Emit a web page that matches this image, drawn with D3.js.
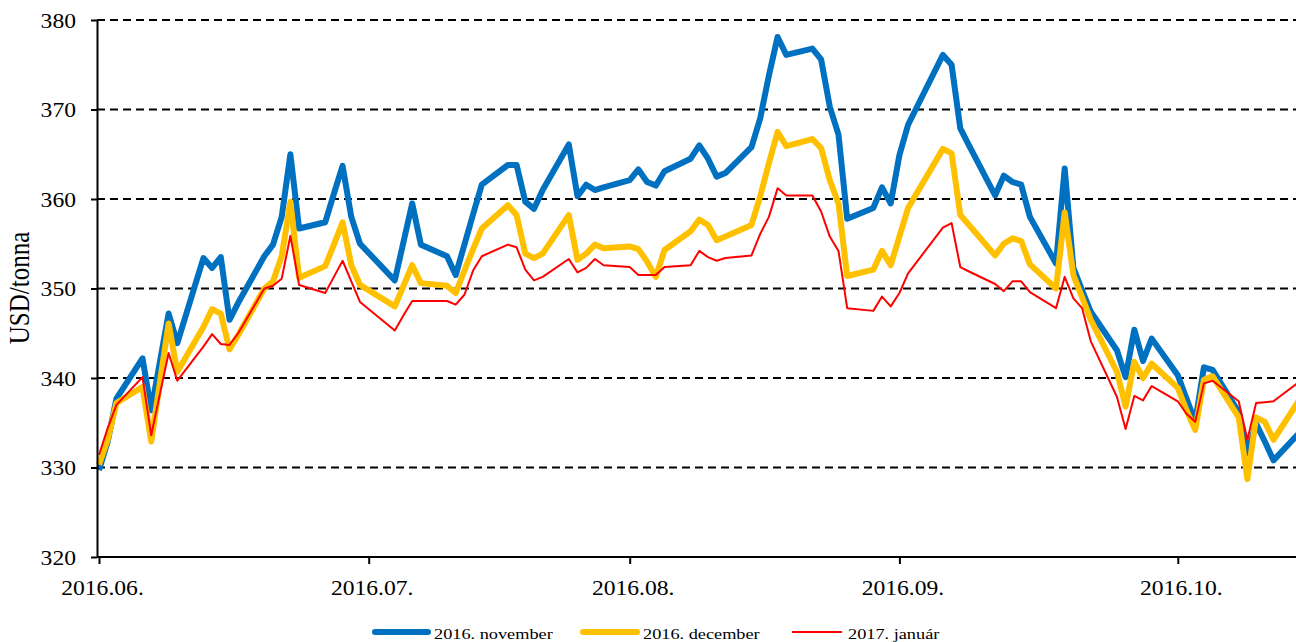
<html>
<head>
<script src="https://d3js.org/d3.v7.min.js"></script>
<style>
  body { margin: 0; background: #fff; }
  svg { display: block; }
  text { font-family: "Liberation Serif", "Times New Roman", serif; fill: #000; }
</style>
</head>
<body>
<svg id="chart" width="1296" height="642"></svg>
<script>
// trading days
const dates = [
  "2016-06-01","2016-06-02","2016-06-03","2016-06-06","2016-06-07","2016-06-09","2016-06-10",
  "2016-06-13","2016-06-14","2016-06-15","2016-06-16","2016-06-17",
  "2016-06-20","2016-06-21","2016-06-22","2016-06-23","2016-06-24",
  "2016-06-27","2016-06-28","2016-06-29","2016-06-30","2016-07-01",
  "2016-07-05","2016-07-06","2016-07-07","2016-07-08",
  "2016-07-11","2016-07-12","2016-07-13","2016-07-14","2016-07-15",
  "2016-07-18","2016-07-19","2016-07-20","2016-07-21","2016-07-22",
  "2016-07-25","2016-07-26","2016-07-27","2016-07-28","2016-07-29",
  "2016-08-01","2016-08-02","2016-08-03","2016-08-04","2016-08-05",
  "2016-08-08","2016-08-09","2016-08-10","2016-08-11","2016-08-12",
  "2016-08-15","2016-08-16","2016-08-17","2016-08-18","2016-08-19",
  "2016-08-22","2016-08-23","2016-08-24","2016-08-25","2016-08-26",
  "2016-08-29","2016-08-30","2016-08-31","2016-09-01","2016-09-02",
  "2016-09-06","2016-09-07","2016-09-08","2016-09-09",
  "2016-09-12","2016-09-13","2016-09-14","2016-09-15","2016-09-16",
  "2016-09-19","2016-09-20","2016-09-21","2016-09-22","2016-09-23",
  "2016-09-26","2016-09-27","2016-09-28","2016-09-29","2016-09-30",
  "2016-10-03","2016-10-04","2016-10-05","2016-10-06","2016-10-07",
  "2016-10-10","2016-10-11","2016-10-12","2016-10-13","2016-10-14","2016-10-17"
];

const novValues = [
  329.7, 332.9, 337.7, 342.2, 336.4, 347.2, 343.9,
  353.4, 352.3, 353.5, 346.5, 348.4,
  353.6, 354.9, 358.0, 365.0, 356.7,
  357.4, 360.6, 363.7, 358.0, 355.0,
  350.9, 355.2, 359.5, 354.9,
  353.6, 351.5, 354.9, 358.3, 361.6,
  363.8, 363.8, 359.7, 358.9, 361.0,
  366.1, 360.3, 361.6, 361.0, 361.3,
  362.1, 363.3, 361.9, 361.5, 363.1,
  364.5, 366.0, 364.5, 362.5, 362.9,
  365.8, 369.0, 373.8, 378.1, 376.1,
  376.8, 375.6, 370.3, 367.2, 357.8,
  359.0, 361.3, 359.5, 364.9, 368.3,
  376.1, 375.0, 367.9, 366.0,
  360.4, 362.6, 361.9, 361.6, 358.0,
  352.8, 363.4, 352.3, 349.8, 347.4,
  343.1, 340.1, 345.4, 341.9, 344.4,
  340.3, 337.7, 335.1, 341.2, 340.9,
  336.2, 331.6, 334.9, 332.9, 330.8, 333.9
];

const decValues = [
  330.3, 333.1, 337.2, 339.0, 332.9, 346.1, 340.7,
  345.7, 347.7, 347.2, 343.2, 344.8,
  350.0, 350.8, 353.6, 359.7, 351.2,
  352.5, 354.9, 357.4, 352.6, 350.4,
  348.0, 350.3, 352.6, 350.6,
  350.3, 349.5, 352.0, 354.4, 356.7,
  359.3, 358.2, 353.9, 353.4, 353.9,
  358.2, 353.2, 353.9, 354.9, 354.5,
  354.7, 354.4, 353.0, 351.3, 354.3,
  356.4, 357.7, 357.1, 355.4, 355.8,
  357.1, 360.3, 364.0, 367.5, 365.9,
  366.7, 365.7, 362.1, 359.5, 351.4,
  352.1, 354.2, 352.6, 355.8, 359.0,
  365.6, 365.1, 358.2, 357.1,
  353.7, 355.0, 355.6, 355.3, 352.7,
  350.0, 358.5, 351.5, 349.0, 346.5,
  340.7, 336.8, 341.8, 340.0, 341.6,
  338.9, 336.4, 334.2, 339.8, 340.2,
  335.6, 328.7, 335.6, 335.1, 333.1, 337.6
];

const janValues = [
  331.4, 334.4, 337.0, 340.1, 333.6, 342.8, 339.7,
  343.5, 344.9, 343.8, 343.7, 345.0,
  350.0, 350.3, 351.1, 355.9, 350.4,
  349.5, 351.3, 353.1, 350.8, 348.5,
  345.3, 347.0, 348.6, 348.6,
  348.6, 348.2, 349.3, 352.0, 353.6,
  354.9, 354.6, 352.1, 350.9, 351.3,
  353.3, 351.8, 352.3, 353.3, 352.6,
  352.4, 351.5, 351.5, 351.5, 352.4,
  352.6, 354.2, 353.5, 353.1, 353.4,
  353.7, 356.1, 358.0, 361.2, 360.4,
  360.4, 358.6, 355.8, 354.2, 347.8,
  347.5, 349.1, 348.0, 349.5, 351.7,
  356.8, 357.3, 352.4, 351.9,
  350.5, 349.7, 350.8, 350.8, 349.6,
  347.8, 351.3, 348.9, 347.8, 344.1,
  337.9, 334.3, 338.0, 337.5, 339.1,
  337.4, 336.0, 335.1, 339.4, 339.7,
  337.4, 333.1, 337.2, 337.3, 337.4, 339.6
];

const seriesNames = ["2016. november", "2016. december", "2017. január"];
const seriesColors = ["#0070C0", "#FFC000", "#FF0000"];
const seriesWidths = [6, 6, 2];
const yTicks = [320, 330, 340, 350, 360, 370, 380];
// month ticks sit where the source draws them
const monthTicks = ["2016-06-01", "2016-07-02", "2016-08-01", "2016-09-01", "2016-10-03"];

const parse = d3.timeParse("%Y-%m-%d");
const svg = d3.select("#chart");

const plotLeft = 97, plotTop = 20, plotBottom = 557, plotRight = 1296;
const stretch = 1.18; // the source picture is a bit wider than tall

const x = d3.scaleTime()
    .domain([parse("2016-06-01"), parse("2016-10-17")])
    .range([99, 99 + 138 * 8.7]);

const y = d3.scaleLinear()
    .domain([320, 380])
    .range([plotBottom, plotTop]);

// dashed grid
svg.append("g")
    .selectAll("line")
    .data(yTicks.slice(1))
    .enter()
    .append("line")
    .attr("x1", plotLeft)
    .attr("x2", plotRight)
    .attr("y1", d => y(d))
    .attr("y2", d => y(d))
    .style("stroke", "#000")
    .style("stroke-width", 2)
    .style("stroke-dasharray", "8,5");

// series
const series = [novValues, decValues, janValues].map((vals, i) => ({
    name: seriesNames[i],
    color: seriesColors[i],
    width: seriesWidths[i],
    points: dates.map((d, j) => ({ date: parse(d), value: vals[j] }))
}));

const line = d3.line()
    .x(d => x(d.date))
    .y(d => y(d.value));

svg.append("g")
    .selectAll("path")
    .data(series)
    .enter()
    .append("path")
    .attr("d", d => line(d.points))
    .style("fill", "none")
    .style("stroke", d => d.color)
    .style("stroke-width", d => d.width)
    .style("stroke-linejoin", "round");

// y axis
const yAxis = svg.append("g")
    .attr("transform", `translate(${plotLeft}, 0)`)
    .call(d3.axisLeft(y).tickValues(yTicks).tickSizeInner(6).tickSizeOuter(0).tickFormat(d3.format("d")));

yAxis.select(".domain").style("stroke", "#000").style("stroke-width", 2);
yAxis.selectAll(".tick line").style("stroke", "#000").style("stroke-width", 2);
yAxis.selectAll(".tick text")
    .attr("x", 0)
    .attr("y", 7)
    .attr("dy", null)
    .attr("transform", `translate(-21, 0) scale(${stretch}, 1)`)
    .style("font-size", "20px");

// x axis
const xAxis = svg.append("g")
    .attr("transform", `translate(0, ${plotBottom})`)
    .call(d3.axisBottom(x)
        .tickValues(monthTicks.map(parse))
        .tickSizeInner(7)
        .tickSizeOuter(0)
        .tickFormat(d3.timeFormat("%Y.%m.")));

xAxis.select(".domain").attr("d", `M${plotLeft},0H${plotRight}`).style("stroke", "#000").style("stroke-width", 2);
xAxis.selectAll(".tick line").style("stroke", "#000").style("stroke-width", 2);
xAxis.selectAll(".tick text")
    .attr("y", 38)
    .attr("dy", null)
    .attr("transform", `translate(3, 0) scale(${stretch}, 1)`)
    .style("font-size", "20px");

// y axis title
svg.append("text")
    .attr("transform", `translate(29, 288) scale(${stretch}, 1) rotate(-90)`)
    .style("text-anchor", "middle")
    .style("font-size", "25px")
    .text("USD/tonna");

// legend
const legendX = [375, 583, 792];
const legendLen = [53, 54, 50];
const legend = svg.append("g")
    .selectAll("g")
    .data(series)
    .enter()
    .append("g")
    .attr("transform", (d, i) => `translate(${legendX[i]}, 632)`);

legend.append("line")
    .attr("x1", 0)
    .attr("x2", (d, i) => legendLen[i])
    .style("stroke", d => d.color)
    .style("stroke-width", d => d.width)
    .style("stroke-linecap", d => d.width > 2 ? "round" : "butt");

legend.append("text")
    .attr("transform", (d, i) => `translate(${legendLen[i] + 6}, 7) scale(${stretch}, 1)`)
    .style("font-size", "15.5px")
    .text(d => d.name);
</script>
</body>
</html>
